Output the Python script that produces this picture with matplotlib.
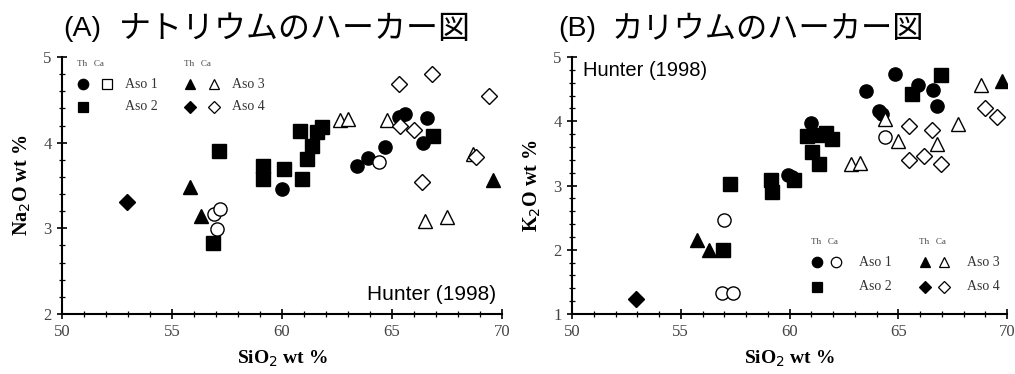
#!/usr/bin/env python3

import matplotlib.pyplot as plt
from matplotlib.ticker import MultipleLocator

# (A) Na2O vs SiO2  -- Th = filled, Ca = open
na_aso1_th_x = [63.4, 63.9, 64.7, 60.0, 65.6, 65.3, 66.6, 66.4]
na_aso1_th_y = [3.73, 3.82, 3.95, 3.46, 4.33, 4.30, 4.29, 4.00]
na_aso1_ca_x = [56.9, 57.2, 57.05, 64.4]
na_aso1_ca_y = [3.17, 3.23, 2.99, 3.77]
na_aso2_th_x = [60.8, 61.35, 61.8, 61.6, 61.15, 60.9, 60.1, 59.15, 59.15, 57.15, 56.85, 66.85]
na_aso2_th_y = [4.14, 3.96, 4.18, 4.12, 3.81, 3.58, 3.69, 3.73, 3.58, 3.90, 2.83, 4.08]
na_aso3_th_x = [55.8, 56.3, 69.6]
na_aso3_th_y = [3.48, 3.14, 3.56]
na_aso3_ca_x = [62.65, 63.0, 64.75, 66.5, 67.5, 68.7]
na_aso3_ca_y = [4.27, 4.28, 4.26, 3.08, 3.13, 3.87]
na_aso4_th_x = [52.95]
na_aso4_th_y = [3.31]
na_aso4_ca_x = [65.3, 66.8, 69.4, 65.35, 66.0, 66.35, 68.8]
na_aso4_ca_y = [4.68, 4.80, 4.55, 4.19, 4.15, 3.54, 3.83]

# (B) K2O vs SiO2
k_aso1_th_x = [64.85, 63.5, 64.1, 64.25, 61.0, 65.9, 66.6, 66.8, 60.1, 59.95]
k_aso1_th_y = [4.74, 4.47, 4.16, 4.12, 3.98, 4.56, 4.49, 4.23, 3.13, 3.16]
k_aso1_ca_x = [57.0, 56.9, 57.4, 64.4]
k_aso1_ca_y = [2.46, 1.33, 1.33, 3.76]
k_aso2_th_x = [66.95, 65.65, 60.8, 61.4, 61.7, 61.95, 61.05, 61.35, 60.2, 59.15, 59.2, 57.25, 56.95]
k_aso2_th_y = [4.72, 4.42, 3.77, 3.78, 3.81, 3.72, 3.52, 3.34, 3.09, 3.08, 2.90, 3.02, 1.99]
k_aso3_th_x = [55.75, 56.3, 69.75]
k_aso3_th_y = [2.15, 1.99, 4.62]
k_aso3_ca_x = [62.85, 63.25, 64.4, 65.0, 66.8, 67.75, 68.8]
k_aso3_ca_y = [3.34, 3.35, 4.04, 3.70, 3.65, 3.96, 4.56]
k_aso4_th_x = [52.95]
k_aso4_th_y = [1.24]
k_aso4_ca_x = [65.5, 66.55, 65.5, 66.2, 66.95, 69.0, 69.55]
k_aso4_ca_y = [3.92, 3.86, 3.39, 3.46, 3.34, 4.20, 4.07]

W, H = 1015, 374
SERIF = "Liberation Serif"
CJK = ["Noto Sans CJK JP", "DejaVu Sans"]


def fx(px):
    return px / W


def fy(py):
    return 1 - py / H


def scatter(ax, x, y, marker, filled, ms=9.5):
    face = "black" if filled else "white"
    ax.plot(x, y, linestyle="none", marker=marker, ms=ms, mfc=face,
            mec="black", mew=1.0, zorder=3)


def styleAxes(ax, ylim, ylabel, ypad):
    ax.set_xlim(50, 70)
    ax.set_ylim(*ylim)
    ax.spines["top"].set_visible(False)
    ax.spines["right"].set_visible(False)
    ax.spines["left"].set_linewidth(1.5)
    ax.spines["bottom"].set_linewidth(1.5)
    ax.xaxis.set_major_locator(MultipleLocator(5))
    ax.xaxis.set_minor_locator(MultipleLocator(1))
    ax.yaxis.set_major_locator(MultipleLocator(1))
    ax.yaxis.set_minor_locator(MultipleLocator(0.2))
    ax.tick_params(which="major", direction="inout", length=7, width=1.2,
                   labelsize=12, labelcolor="#444444", pad=4)
    ax.tick_params(which="minor", direction="inout", length=4, width=0.9)
    for lab in ax.get_xticklabels() + ax.get_yticklabels():
        lab.set_family(SERIF)
    ax.set_xlabel(r"SiO$_2$ wt %", family=SERIF, fontweight="bold",
                  fontsize=14, labelpad=6)
    ax.set_ylabel(ylabel, family=SERIF, fontweight="bold", fontsize=14.5,
                  labelpad=ypad)


def drawLegend(fig, x0, y0, open1, dx_open, dx_col2, dy):
    # x0, y0: pixel position of first filled marker (row 1)
    dx_lab = 42
    rows = [
        [("o", True), (open1, False), "Aso 1",
         ("^", True), ("^", False), "Aso 3"],
        [("s", True), None, "Aso 2",
         ("D", True), ("D", False), "Aso 4"],
    ]
    for c in range(2):
        fig.text(fx(x0 - 6 + c * dx_col2), fy(y0 - 20), "Th   Ca",
                 fontsize=6.5, family=SERIF, va="center", color="#444444")
    for r, row in enumerate(rows):
        yy = y0 + r * dy
        for c in range(2):
            xx = x0 + c * dx_col2
            full, opn, lab = row[c * 3], row[c * 3 + 1], row[c * 3 + 2]
            for m, off in ((full, 0), (opn, dx_open)):
                if m is None:
                    continue
                ms = 6.5 if m[0] == "D" else 7.5
                fig.lines.append(plt.Line2D(
                    [fx(xx + off)], [fy(yy)], transform=fig.transFigure,
                    marker=m[0], ms=ms, mfc="black" if m[1] else "white",
                    mec="black", mew=0.9, linestyle="none"))
            fig.text(fx(xx + dx_lab), fy(yy), lab, fontsize=10,
                     family=SERIF, va="center", color="#333333")


fig = plt.figure(figsize=(W / 100, H / 100), dpi=100)
fig.patch.set_facecolor("white")

axA = fig.add_axes([fx(62), fy(314), (502 - 62) / W, (314 - 57) / H])
axB = fig.add_axes([fx(572), fy(314), (1007 - 572) / W, (314 - 57) / H])

scatter(axA, na_aso1_th_x, na_aso1_th_y, "o", True)
scatter(axA, na_aso1_ca_x, na_aso1_ca_y, "o", False)
scatter(axA, na_aso2_th_x, na_aso2_th_y, "s", True)
scatter(axA, na_aso3_th_x, na_aso3_th_y, "^", True)
scatter(axA, na_aso3_ca_x, na_aso3_ca_y, "^", False)
scatter(axA, na_aso4_th_x, na_aso4_th_y, "D", True, ms=8)
scatter(axA, na_aso4_ca_x, na_aso4_ca_y, "D", False, ms=8)
styleAxes(axA, (2, 5), r"Na$_2$O wt %", 7)

scatter(axB, k_aso1_th_x, k_aso1_th_y, "o", True)
scatter(axB, k_aso1_ca_x, k_aso1_ca_y, "o", False)
scatter(axB, k_aso2_th_x, k_aso2_th_y, "s", True)
scatter(axB, k_aso3_th_x, k_aso3_th_y, "^", True)
scatter(axB, k_aso3_ca_x, k_aso3_ca_y, "^", False)
scatter(axB, k_aso4_th_x, k_aso4_th_y, "D", True, ms=8)
scatter(axB, k_aso4_ca_x, k_aso4_ca_y, "D", False, ms=8)
styleAxes(axB, (1, 5), r"K$_2$O wt %", 7)

drawLegend(fig, 83, 84, "s", 24, 107, 23)
drawLegend(fig, 817, 262, "o", 19, 108, 25)

fig.text(fx(367), fy(294), "Hunter (1998)", fontsize=15,
         family="Liberation Sans", va="center")
fig.text(fx(583), fy(71), "Hunter (1998)", fontsize=14.5,
         family="Liberation Sans", va="center")

fig.text(fx(63), fy(29), "(A)", fontsize=20.5,
         family="Liberation Sans", va="center")
fig.text(fx(119), fy(29), "ナトリウムのハーカー図", fontsize=23,
         family=CJK, va="center")
fig.text(fx(558), fy(29), "(B)", fontsize=20.5,
         family="Liberation Sans", va="center")
fig.text(fx(612), fy(29), "カリウムのハーカー図", fontsize=22.5,
         family=CJK, va="center")

plt.savefig("out.png", dpi=100)
plt.close()
